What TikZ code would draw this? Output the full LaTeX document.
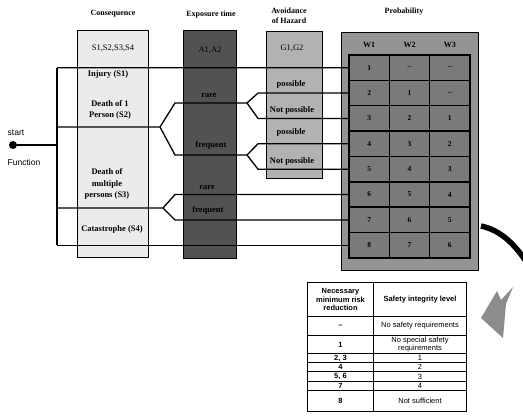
\documentclass[tikz,border=0pt]{standalone}
\usepackage{fontspec}
\setmainfont{Liberation Serif}
\setsansfont{Liberation Sans}
\usetikzlibrary{positioning}

\tikzset{
  hd/.style={font=\fontsize{8}{9.5}\selectfont\bfseries, align=center},
  lbl/.style={font=\fontsize{8.5}{11.5}\selectfont\bfseries, align=center, inner sep=1pt},
  lblr/.style={font=\fontsize{8.5}{10}\selectfont, inner sep=1pt},
  colbox/.style={draw, line width=1pt, anchor=north west, inner sep=0pt},
  branch/.style={line width=1.3pt, line join=miter},
  cell/.style={draw, line width=1.5pt, fill=black!52, minimum width=40.3pt, minimum height=25.4pt,
    inner sep=0pt, font=\fontsize{7.5}{8}\selectfont\bfseries},
  tc/.style={draw, line width=1pt, anchor=north west, inner sep=0pt, align=center,
    font=\sffamily\fontsize{7.5}{8.5}\selectfont},
}

\begin{document}
\begin{tikzpicture}[x=1pt, y=-1pt]
\clip (0,0) rectangle (523,417);
\fill[white] (0,0) rectangle (523,417);

% the four columns
\node[colbox, fill=black!8, minimum width=71pt, minimum height=227pt] (cons) at (77,30) {};
\node[colbox, fill=black!68, minimum width=53pt, minimum height=228pt] (expo) at (183,30) {};
\node[colbox, fill=black!30, minimum width=56pt, minimum height=147pt] (avoid) at (266,31) {};
\node[colbox, fill=black!42, minimum width=137pt, minimum height=238pt] (prob) at (341,32) {};

\node[hd] (h-cons) at (113,14) {Consequence};
\node[hd] (h-expo) at (211,15) {Exposure time};
\node[hd] (h-avoid) at (289,16) {Avoidance\\of Hazard};
\node[hd] (h-prob) at (404,12) {Probability};

% probability matrix
\foreach \a/\b/\c [count=\r] in {1/--/--, 2/1/--, 3/2/1, 4/3/2, 5/4/3, 6/5/4, 7/6/5, 8/7/6}{
  \node[cell] (m\r-1) at (369.2, 42.3+25.375*\r) {\a};
  \node[cell] (m\r-2) at (409.5, 42.3+25.375*\r) {\b};
  \node[cell] (m\r-3) at (449.8, 42.3+25.375*\r) {\c};
}
\node[hd, above=3pt of m1-1] (w1) {W1};
\node[hd, above=3pt of m1-2] (w2) {W2};
\node[hd, above=3pt of m1-3] (w3) {W3};

% column texts
\node[lblr] (t-s) at (113,48) {S1,S2,S3,S4};
\node[lbl] (t-s1) at (108,74) {Injury (S1)};
\node[lbl] (t-s2) at (110,110) {Death of 1\\Person (S2)};
\node[lbl] (t-s3) at (107,184) {Death of\\multiple\\persons (S3)};
\node[lbl] (t-s4) at (112,229) {Catastrophe (S4)};

\node[lblr] (t-a) at (210,50) {A1,A2};
\node[lbl] (t-a1) at (209,96) {rare};
\node[lbl] (t-a2) at (211,145) {frequent};
\node[lbl] (t-a3) at (207,188) {rare};
\node[lbl] (t-a4) at (208,210) {frequent};

\node[lblr] (t-g) at (292,48) {G1,G2};
\node[lbl] (t-g1) at (291,84) {possible};
\node[lbl] (t-g2) at (292,110) {Not possible};
\node[lbl] (t-g3) at (291,132) {possible};
\node[lbl] (t-g4) at (292,161) {Not possible};

% start point
\node[circle, fill, inner sep=0pt, minimum size=8pt] (start) at (13,145) {};
\node[font=\sffamily\fontsize{8.5}{10}\selectfont] (start-l) at (16,133) {start};
\node[font=\sffamily\fontsize{8.5}{10}\selectfont] (func-l) at (24,162) {Function};

% branches
\coordinate (j0) at (57,145);
\coordinate (jtop) at (57,67.7);
\coordinate (jbot) at (57,245.3);
\coordinate (ex) at (175,0);
\coordinate (gx) at (258,0);
\coordinate (s2) at (57,127);
\coordinate (s2s) at (160,127);
\coordinate (a1) at (175,103);
\coordinate (a1s) at (247,103);
\coordinate (a2) at (175,155);
\coordinate (a2s) at (247,155);
\coordinate (s3) at (57,208);
\coordinate (s3s) at (163,208);

\draw[branch] (start) -- (j0);
\draw[branch] (jtop) -- (jbot);
\draw[branch] (jtop) -- (m1-1.west);
\draw[branch] (jbot) -- (m8-1.west);
\draw[branch] (s2) -- (s2s) -- (a1) -- (a1s) -- (gx |- m2-1.west) -- (m2-1.west);
\draw[branch] (a1s) -- (gx |- m3-1.west) -- (m3-1.west);
\draw[branch] (s2s) -- (a2) -- (a2s) -- (gx |- m4-1.west) -- (m4-1.west);
\draw[branch] (a2s) -- (gx |- m5-1.west) -- (m5-1.west);
\draw[branch] (s3) -- (s3s) -- (ex |- m6-1.west) -- (m6-1.west);
\draw[branch] (s3s) -- (ex |- m7-1.west) -- (m7-1.west);

% arrow to the table
\draw[line width=5.5pt] (481,226) .. controls (500,230) and (516,244) .. (530,268);
\fill[black!45] (481,318) -- (497,291) -- (501,300) -- (513,287) -- (506,304) -- (503,338) -- cycle;

% SIL table
\foreach \t/\h/\l/\r [count=\i] in {
  282/34/{\bfseries Necessary\\\bfseries minimum risk\\\bfseries reduction}/{\bfseries Safety integrity level},
  316/19/{\bfseries --}/No safety requirements,
  335/18/{\bfseries 1}/{No special safety\\requirements},
  353/9/{\bfseries 2, 3}/1,
  362/9.5/{\bfseries 4}/2,
  371.5/9.5/{\bfseries 5, 6}/3,
  381/9/{\bfseries 7}/4,
  390/21/{\bfseries 8}/Not sufficient}{
  \node[tc, minimum width=66pt, minimum height=\h pt] (tl\i) at (307,\t) {\l};
  \node[tc, minimum width=93pt, minimum height=\h pt] (tr\i) at (373,\t) {\r};
}
\end{tikzpicture}
\end{document}
